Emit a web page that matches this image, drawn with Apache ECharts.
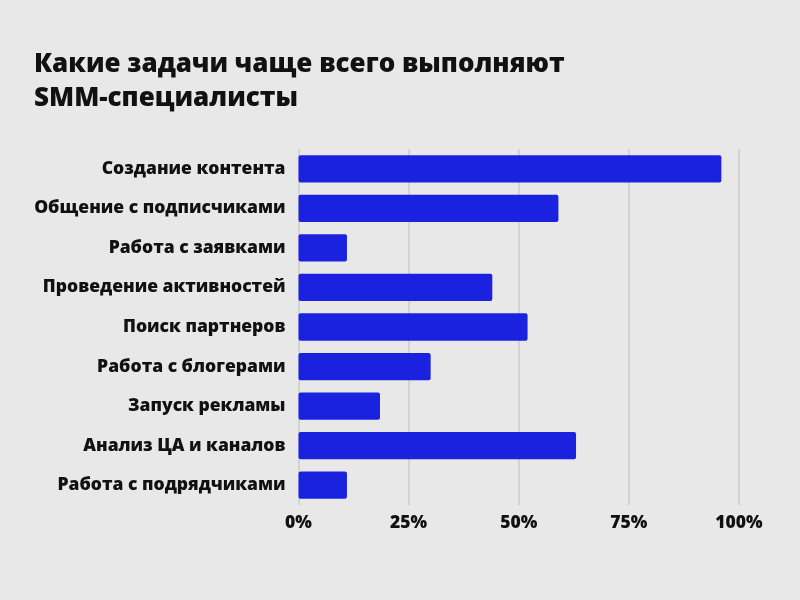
<!DOCTYPE html>
<html><head><meta charset="utf-8">
<script src="https://cdn.jsdelivr.net/npm/echarts@6/dist/echarts.min.js"></script>
<style>html,body{margin:0;padding:0;background:#e8e8e8}#c{width:800px;height:600px}</style>
</head><body><div id="c"></div>
<script>
const categories = ["Создание контента","Общение с подписчиками","Работа с заявками","Проведение активностей","Поиск партнеров","Работа с блогерами","Запуск рекламы","Анализ ЦА и каналов","Работа с подрядчиками"];
const values = [96, 59, 11, 44, 52, 30, 18.5, 63, 11];
const titleLines = ["Какие задачи чаще всего выполняют","SMM-специалисты"];

const chart = echarts.init(document.getElementById('c'));
chart.setOption({
  backgroundColor: '#e8e8e8',
  title: {
    text: titleLines.join('\n'),
    left: 29, top: 43,
    textStyle: {fontFamily: 'Open Sans', fontWeight: 800, fontSize: 26, lineHeight: 34, color: '#111'}
  },
  grid: {left: 298.5, right: 61, top: 149, bottom: 95},
  xAxis: {
    type: 'value', min: 0, max: 100, interval: 25,
    axisLine: {show: false}, axisTick: {show: false},
    splitLine: {lineStyle: {color: '#cccccc', width: 1.5}},
    axisLabel: {formatter: '{value}%', fontFamily: 'Open Sans', fontWeight: 800, fontSize: 17.5, color: '#111', margin: 9}
  },
  yAxis: {
    type: 'category', data: categories, inverse: true,
    axisLine: {show: false}, axisTick: {show: false},
    axisLabel: {fontFamily: 'Open Sans', fontWeight: 800, fontSize: 17.5, color: '#111', margin: 13}
  },
  series: [{
    type: 'bar', data: values, barWidth: '69%',
    itemStyle: {color: '#1a22e0', borderRadius: 2},
    animation: false
  }]
});
</script></body></html>
